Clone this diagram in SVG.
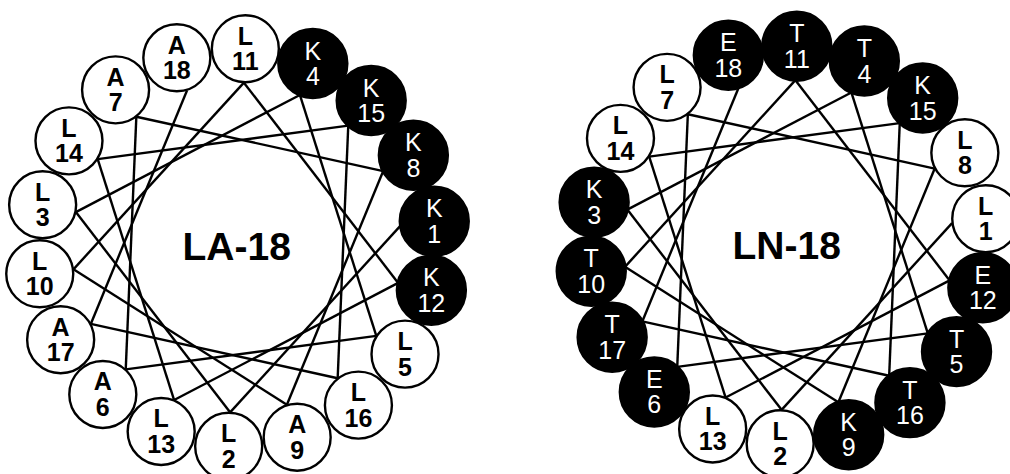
<svg xmlns="http://www.w3.org/2000/svg" width="1010" height="474" viewBox="0 0 1010 474">
<style>
.w circle{fill:#fff;stroke:#000;stroke-width:2.4}
.b circle{fill:#000;stroke:#000;stroke-width:2.4}
.w text,.b text{font-family:"Liberation Sans",Arial,Helvetica,sans-serif;font-size:25px;text-anchor:middle}
.w text{font-weight:bold;fill:#000}
.b text{font-weight:normal;fill:#fff}
.conn line{stroke:#000;stroke-width:2.4;fill:none}
.title{font-family:"Liberation Sans",Arial,Helvetica,sans-serif;font-size:39px;font-weight:bold;text-anchor:middle;fill:#000}
</style>
<rect width="1010" height="474" fill="#fff"/>

<g id="connectors-LA18" class="conn">
<line x1="400.55" y1="225.68" x2="230.09" y2="412.35"/>
<line x1="230.09" y1="412.35" x2="75.85" y2="212.07"/>
<line x1="75.85" y1="212.07" x2="299.88" y2="94.95"/>
<line x1="299.88" y1="94.95" x2="376.31" y2="335.91"/>
<line x1="376.31" y1="335.91" x2="125.74" y2="369.35"/>
<line x1="125.74" y1="369.35" x2="136.33" y2="116.77"/>
<line x1="136.33" y1="116.77" x2="383.22" y2="171.06"/>
<line x1="383.22" y1="171.06" x2="286.89" y2="404.78"/>
<line x1="286.89" y1="404.78" x2="73.45" y2="269.32"/>
<line x1="73.45" y1="269.32" x2="243.91" y2="82.65"/>
<line x1="243.91" y1="82.65" x2="398.15" y2="282.93"/>
<line x1="398.15" y1="282.93" x2="174.12" y2="400.05"/>
<line x1="174.12" y1="400.05" x2="97.69" y2="159.09"/>
<line x1="97.69" y1="159.09" x2="348.26" y2="125.65"/>
<line x1="348.26" y1="125.65" x2="337.67" y2="378.23"/>
<line x1="337.67" y1="378.23" x2="90.78" y2="323.94"/>
<line x1="90.78" y1="323.94" x2="187.11" y2="90.22"/>
</g>

<g id="connectors-LN18" class="conn" transform="translate(551.5,-2.5)">
<line x1="400.55" y1="225.68" x2="230.09" y2="412.35"/>
<line x1="230.09" y1="412.35" x2="75.85" y2="212.07"/>
<line x1="75.85" y1="212.07" x2="299.88" y2="94.95"/>
<line x1="299.88" y1="94.95" x2="376.31" y2="335.91"/>
<line x1="376.31" y1="335.91" x2="125.74" y2="369.35"/>
<line x1="125.74" y1="369.35" x2="136.33" y2="116.77"/>
<line x1="136.33" y1="116.77" x2="383.22" y2="171.06"/>
<line x1="383.22" y1="171.06" x2="286.89" y2="404.78"/>
<line x1="286.89" y1="404.78" x2="73.45" y2="269.32"/>
<line x1="73.45" y1="269.32" x2="243.91" y2="82.65"/>
<line x1="243.91" y1="82.65" x2="398.15" y2="282.93"/>
<line x1="398.15" y1="282.93" x2="174.12" y2="400.05"/>
<line x1="174.12" y1="400.05" x2="97.69" y2="159.09"/>
<line x1="97.69" y1="159.09" x2="348.26" y2="125.65"/>
<line x1="348.26" y1="125.65" x2="337.67" y2="378.23"/>
<line x1="337.67" y1="378.23" x2="90.78" y2="323.94"/>
<line x1="90.78" y1="323.94" x2="187.11" y2="90.22"/>
</g>

<!-- LA-18 wheel: black nodes -->
<g id="la-1" class="b" transform="translate(434.25,221.18)"><circle r="34.5"/><text y="-4">K</text><text y="21.5">1</text></g>
<g id="la-4" class="b" transform="translate(312.83,63.51)"><circle r="34.5"/><text y="-4">K</text><text y="21.5">4</text></g>
<g id="la-8" class="b" transform="translate(413.35,155.30)"><circle r="34.5"/><text y="-4">K</text><text y="21.5">8</text></g>
<g id="la-12" class="b" transform="translate(431.36,290.23)"><circle r="34.5"/><text y="-4">K</text><text y="21.5">12</text></g>
<g id="la-15" class="b" transform="translate(371.19,100.55)"><circle r="34.5"/><text y="-4">K</text><text y="21.5">15</text></g>
<!-- LA-18 wheel: white nodes -->
<g id="la-2" class="w" transform="translate(228.67,446.32)"><circle r="33.5"/><text y="-4">L</text><text y="21.5">2</text></g>
<g id="la-3" class="w" transform="translate(42.64,204.77)"><circle r="33.5"/><text y="-4">L</text><text y="21.5">3</text></g>
<g id="la-5" class="w" transform="translate(405.02,354.13)"><circle r="33.5"/><text y="-4">L</text><text y="21.5">5</text></g>
<g id="la-6" class="w" transform="translate(102.81,394.45)"><circle r="33.5"/><text y="-4">A</text><text y="21.5">6</text></g>
<g id="la-7" class="w" transform="translate(115.58,89.83)"><circle r="33.5"/><text y="-4">A</text><text y="21.5">7</text></g>
<g id="la-9" class="w" transform="translate(297.17,437.18)"><circle r="33.5"/><text y="-4">A</text><text y="21.5">9</text></g>
<g id="la-10" class="w" transform="translate(39.75,273.82)"><circle r="33.5"/><text y="-4">L</text><text y="21.5">10</text></g>
<g id="la-11" class="w" transform="translate(245.33,48.68)"><circle r="33.5"/><text y="-4">L</text><text y="21.5">11</text></g>
<g id="la-13" class="w" transform="translate(161.17,431.49)"><circle r="33.5"/><text y="-4">L</text><text y="21.5">13</text></g>
<g id="la-14" class="w" transform="translate(68.98,140.87)"><circle r="33.5"/><text y="-4">L</text><text y="21.5">14</text></g>
<g id="la-16" class="w" transform="translate(358.42,405.17)"><circle r="33.5"/><text y="-4">L</text><text y="21.5">16</text></g>
<g id="la-17" class="w" transform="translate(60.65,339.70)"><circle r="33.5"/><text y="-4">A</text><text y="21.5">17</text></g>
<g id="la-18" class="w" transform="translate(176.83,57.82)"><circle r="33.5"/><text y="-4">A</text><text y="21.5">18</text></g>

<!-- LN-18 wheel: black nodes -->
<g id="ln-3" class="b" transform="translate(594.14,202.27)"><circle r="34.5"/><text y="-4">K</text><text y="21.5">3</text></g>
<g id="ln-4" class="b" transform="translate(864.33,61.01)"><circle r="34.5"/><text y="-4">T</text><text y="21.5">4</text></g>
<g id="ln-5" class="b" transform="translate(956.52,351.63)"><circle r="34.5"/><text y="-4">T</text><text y="21.5">5</text></g>
<g id="ln-6" class="b" transform="translate(654.31,391.95)"><circle r="34.5"/><text y="-4">E</text><text y="21.5">6</text></g>
<g id="ln-9" class="b" transform="translate(848.67,434.68)"><circle r="34.5"/><text y="-4">K</text><text y="21.5">9</text></g>
<g id="ln-10" class="b" transform="translate(591.25,271.32)"><circle r="34.5"/><text y="-4">T</text><text y="21.5">10</text></g>
<g id="ln-11" class="b" transform="translate(796.83,46.18)"><circle r="34.5"/><text y="-4">T</text><text y="21.5">11</text></g>
<g id="ln-12" class="b" transform="translate(982.86,287.73)"><circle r="34.5"/><text y="-4">E</text><text y="21.5">12</text></g>
<g id="ln-15" class="b" transform="translate(922.69,98.05)"><circle r="34.5"/><text y="-4">K</text><text y="21.5">15</text></g>
<g id="ln-16" class="b" transform="translate(909.92,402.67)"><circle r="34.5"/><text y="-4">T</text><text y="21.5">16</text></g>
<g id="ln-17" class="b" transform="translate(612.15,337.20)"><circle r="34.5"/><text y="-4">T</text><text y="21.5">17</text></g>
<g id="ln-18" class="b" transform="translate(728.33,55.32)"><circle r="34.5"/><text y="-4">E</text><text y="21.5">18</text></g>
<!-- LN-18 wheel: white nodes -->
<g id="ln-1" class="w" transform="translate(985.75,218.68)"><circle r="33.5"/><text y="-4">L</text><text y="21.5">1</text></g>
<g id="ln-2" class="w" transform="translate(780.17,443.82)"><circle r="33.5"/><text y="-4">L</text><text y="21.5">2</text></g>
<g id="ln-7" class="w" transform="translate(667.08,87.33)"><circle r="33.5"/><text y="-4">L</text><text y="21.5">7</text></g>
<g id="ln-8" class="w" transform="translate(964.85,152.80)"><circle r="33.5"/><text y="-4">L</text><text y="21.5">8</text></g>
<g id="ln-13" class="w" transform="translate(712.67,428.99)"><circle r="33.5"/><text y="-4">L</text><text y="21.5">13</text></g>
<g id="ln-14" class="w" transform="translate(620.48,138.37)"><circle r="33.5"/><text y="-4">L</text><text y="21.5">14</text></g>

<g id="label-LA18"><text class="title" x="236.7" y="260">LA-18</text></g>
<g id="label-LN18"><text class="title" x="786.7" y="259.3">LN-18</text></g>
</svg>
